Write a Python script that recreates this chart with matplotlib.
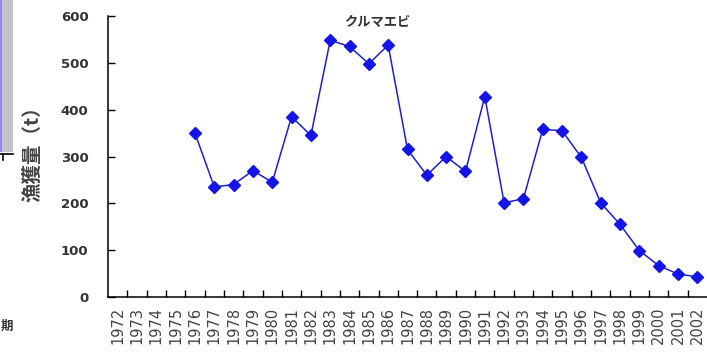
import matplotlib
matplotlib.use("Agg")
import matplotlib.pyplot as plt
from matplotlib.patches import Rectangle
from matplotlib.lines import Line2D

# クルマエビ 漁獲量 (t)
years = list(range(1972, 2003))
catch = [None, None, None, None,
         350, 235, 240, 270, 245, 385, 345, 548, 535, 498, 538,
         315, 260, 300, 268, 428, 201, 210, 358, 355, 298,
         201, 155, 99, 67, 49, 43]
y_ticks = [0, 100, 200, 300, 400, 500, 600]

plt.rcParams['font.family'] = ['DejaVu Sans']

fig = plt.figure(figsize=(7.07, 3.58), dpi=100)
ax = fig.add_axes([108 / 707, 1 - 297 / 358, 1 - 108 / 707, (297 - 16) / 358])

xs = [i for i, v in enumerate(catch) if v is not None]
vals = [v for v in catch if v is not None]
ax.plot(xs, vals, color='#2020c8', lw=1.1, marker='D', markersize=6.5,
        markerfacecolor='#1414e6', markeredgecolor='#1414e6')

ax.set_xlim(-0.5, len(years) - 0.5)
ax.set_ylim(0, 600)
ax.set_yticks(y_ticks)
ax.set_yticklabels([str(t) for t in y_ticks], fontsize=9.5, fontweight='bold', color='#333333')
ax.set_xticks(range(len(years)))
ax.set_xticklabels([str(y) for y in years], rotation=90, fontsize=10.5, color='#444444')
ax.set_xticks([i + 0.5 for i in range(len(years) - 1)], minor=True)
ax.tick_params(axis='x', which='major', length=0, pad=7)
ax.tick_params(axis='x', which='minor', direction='in', length=5, width=1)
ax.tick_params(axis='y', direction='in', length=5, width=1, pad=14)

for s in ['top', 'right']:
    ax.spines[s].set_visible(False)
for s in ['left', 'bottom']:
    ax.spines[s].set_linewidth(1.1)

fig.text(377 / 707, 1 - 22 / 358, 'クルマエビ', ha='center', va='center',
         fontsize=9.5, fontweight='bold', color='#333333',
         family=['Noto Sans CJK JP', 'DejaVu Sans'])
fig.text(33 / 707, 1 - 149 / 358, '漁獲量（t）', ha='center', va='center',
         rotation=90, fontsize=14, fontweight='bold', color='#444444',
         family=['Noto Sans CJK JP', 'DejaVu Sans'])

# piece of the neighbouring panel on the left edge
fig.patches.append(Rectangle((0, 1 - 152 / 358), 13 / 707, 152 / 358,
                             transform=fig.transFigure, facecolor='#c6c2c6',
                             edgecolor='none'))
fig.patches.append(Rectangle((0, 1 - 152 / 358), 2 / 707, 152 / 358,
                             transform=fig.transFigure, facecolor='#8c8cf0',
                             edgecolor='none'))
fig.lines.append(Line2D([0, 13 / 707], [1 - 154 / 358, 1 - 154 / 358],
                        transform=fig.transFigure, color='black', lw=1.2))
fig.lines.append(Line2D([3 / 707, 3 / 707], [1 - 154 / 358, 1 - 160 / 358],
                        transform=fig.transFigure, color='black', lw=1.2))
fig.text(1 / 707, 1 - 326 / 358, '期', ha='left', va='center', fontsize=9,
         fontweight='bold', color='#333333', family=['Noto Sans CJK JP'])

fig.savefig('out.png', dpi=100)
